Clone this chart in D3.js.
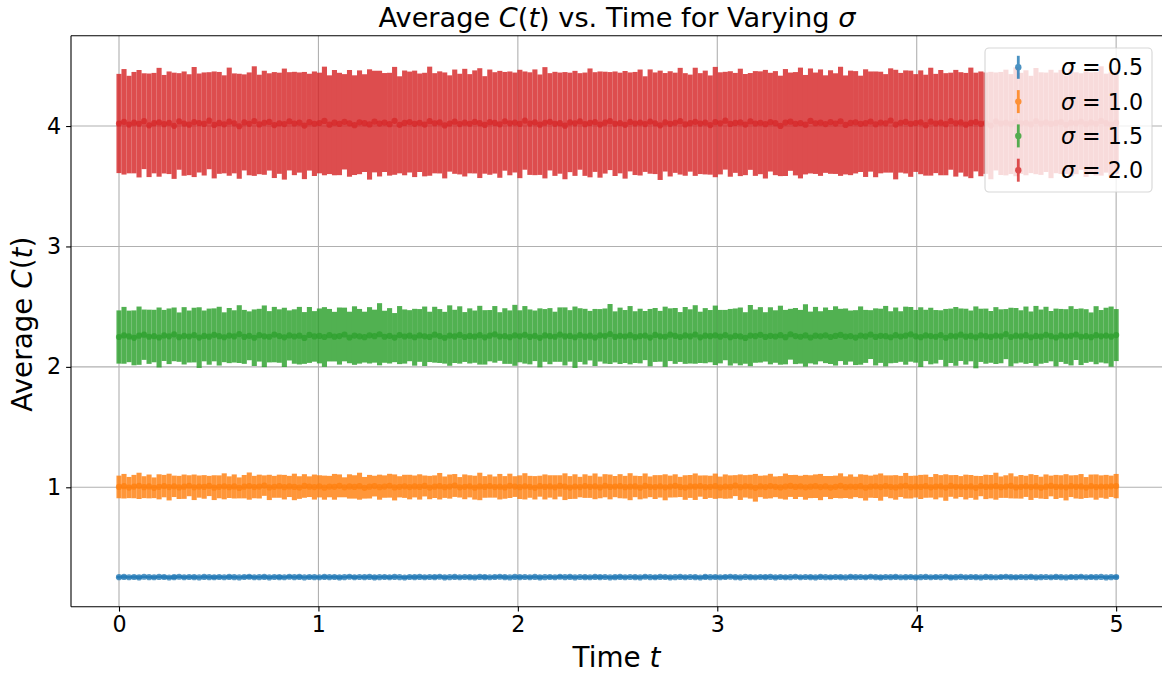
<!DOCTYPE html>
<html><head><meta charset="utf-8">
<script src="https://cdn.jsdelivr.net/npm/d3@7"></script>
<style>body{margin:0;background:#fff} svg{display:block;font-family:"DejaVu Sans",sans-serif}</style>
</head><body><svg id="c" width="1162" height="677"></svg>
<script>
// ---------- data ----------
const tStart = 0, tEnd = 5;
const sigmaLabels = ["0.5", "1.0", "1.5", "2.0"];
const colors = ["#1f77b4", "#ff7f0e", "#2ca02c", "#d62728"];
const xTicks = [0, 1, 2, 3, 4, 5];
const yTicks = [1, 2, 3, 4];

const meanS05 = [0.254,0.256,0.253,0.255,0.252,0.257,0.254,0.253,0.256,0.255,0.251,0.254,0.257,0.253,0.255,0.254,0.252,0.256,0.254,0.253,
0.255,0.253,0.256,0.254,0.252,0.255,0.257,0.253,0.254,0.256,0.252,0.255,0.254,0.253,0.257,0.254,0.256,0.252,0.255,0.254,
0.253,0.256,0.254,0.255,0.252,0.254,0.257,0.253,0.255,0.254,0.256,0.252,0.254,0.255,0.253,0.256,0.254,0.251,0.255,0.254,
0.256,0.253,0.255,0.254,0.257,0.252,0.254,0.256,0.253,0.255,0.254,0.252,0.256,0.254,0.253,0.255,0.257,0.254,0.252,0.256,
0.254,0.255,0.253,0.256,0.252,0.254,0.255,0.253,0.257,0.254,0.256,0.252,0.255,0.254,0.253,0.256,0.254,0.255,0.252,0.254,
0.256,0.253,0.255,0.254,0.252,0.257,0.254,0.253,0.256,0.255,0.252,0.254,0.256,0.253,0.255,0.254,0.251,0.256,0.254,0.255,
0.253,0.255,0.257,0.254,0.252,0.256,0.254,0.253,0.255,0.254,0.256,0.252,0.255,0.253,0.254,0.257,0.253,0.255,0.254,0.252,
0.256,0.254,0.253,0.255,0.254,0.252,0.256,0.254,0.255,0.253,0.257,0.254,0.252,0.255,0.254,0.256,0.253,0.254,0.255,0.252,
0.254,0.256,0.253,0.255,0.254,0.257,0.252,0.254,0.256,0.253,0.255,0.254,0.252,0.256,0.254,0.253,0.255,0.257,0.254,0.253,
0.255,0.254,0.256,0.252,0.254,0.255,0.253,0.256,0.254,0.252,0.255,0.254,0.257,0.253,0.255,0.254,0.256,0.252,0.254,0.255];
const errS05 = [0.012,0.014,0.011,0.013,0.015,0.010,0.012,0.013,0.011,0.014,0.012,0.016,0.011,0.013,0.012,0.014,0.010,0.013,0.012,0.015,
0.013,0.011,0.014,0.012,0.010,0.013,0.015,0.012,0.011,0.014,0.013,0.012,0.016,0.011,0.013,0.012,0.014,0.010,0.013,0.012,
0.011,0.014,0.012,0.013,0.015,0.011,0.012,0.014,0.010,0.013,0.012,0.015,0.011,0.013,0.014,0.012,0.010,0.013,0.012,0.014,
0.012,0.013,0.011,0.015,0.012,0.014,0.010,0.013,0.012,0.011,0.014,0.013,0.012,0.016,0.011,0.013,0.012,0.014,0.010,0.012,
0.014,0.011,0.013,0.012,0.015,0.010,0.013,0.012,0.014,0.011,0.013,0.012,0.010,0.014,0.012,0.013,0.015,0.011,0.012,0.014,
0.013,0.012,0.010,0.014,0.012,0.013,0.011,0.015,0.012,0.013,0.014,0.011,0.012,0.013,0.010,0.014,0.012,0.016,0.011,0.013,
0.012,0.014,0.011,0.013,0.012,0.010,0.014,0.013,0.012,0.015,0.011,0.013,0.012,0.014,0.010,0.012,0.013,0.011,0.014,0.012,
0.013,0.011,0.015,0.012,0.014,0.010,0.013,0.012,0.011,0.014,0.012,0.013,0.016,0.011,0.012,0.014,0.010,0.013,0.012,0.014,
0.011,0.013,0.012,0.014,0.010,0.013,0.015,0.012,0.011,0.013,0.012,0.014,0.011,0.013,0.012,0.010,0.014,0.012,0.013,0.015,
0.012,0.011,0.014,0.013,0.012,0.010,0.013,0.014,0.012,0.011,0.015,0.012,0.013,0.011,0.014,0.012,0.010,0.013,0.012,0.014];

const meanS10 = [1.003,1.009,0.998,1.006,1.012,1.001,1.007,0.996,1.004,1.010,1.002,1.008,0.999,1.005,1.013,1.000,1.006,1.003,1.011,0.997,
1.004,1.008,1.001,1.007,0.995,1.005,1.010,1.002,1.006,1.014,0.999,1.004,1.009,1.001,1.007,1.003,0.998,1.011,1.005,1.002,
1.008,0.997,1.006,1.004,1.012,1.000,1.007,1.003,1.009,0.996,1.005,1.010,1.001,1.006,1.013,0.999,1.004,1.008,1.002,1.007,
1.003,1.011,0.998,1.005,1.009,1.001,1.006,1.015,1.000,1.004,1.008,0.997,1.007,1.003,1.010,1.002,1.005,0.999,1.012,1.006,
1.001,1.008,1.004,0.996,1.009,1.003,1.007,1.000,1.011,1.005,0.998,1.006,1.002,1.010,1.004,1.008,0.999,1.013,1.003,1.006,
1.009,1.001,1.005,1.007,0.997,1.011,1.004,1.002,1.008,1.000,1.006,1.012,1.003,0.998,1.007,1.005,1.010,1.001,1.004,1.009,
0.999,1.006,1.003,1.014,1.001,1.008,1.005,0.996,1.007,1.002,1.010,1.004,0.999,1.006,1.011,1.003,1.008,1.000,1.005,1.009,
1.002,1.007,0.998,1.004,1.012,1.001,1.006,1.003,1.009,0.997,1.005,1.008,1.002,1.010,1.004,0.999,1.007,1.013,1.001,1.006,
1.003,1.009,1.000,1.005,1.008,0.998,1.011,1.004,1.006,1.002,1.007,0.996,1.010,1.003,1.005,1.009,1.001,1.006,1.012,0.999,
1.004,1.008,1.002,1.007,0.997,1.005,1.011,1.003,1.006,1.000,1.009,1.004,1.007,0.998,1.010,1.002,1.006,1.004,1.008,1.010];
const errS10 = [0.094,0.102,0.088,0.097,0.109,0.091,0.099,0.086,0.104,0.093,0.111,0.089,0.096,0.101,0.087,0.106,0.092,0.098,0.084,0.103,
0.095,0.108,0.090,0.100,0.087,0.097,0.113,0.093,0.099,0.085,0.105,0.091,0.096,0.102,0.088,0.110,0.094,0.098,0.086,0.104,
0.092,0.100,0.089,0.107,0.095,0.083,0.101,0.097,0.112,0.090,0.098,0.086,0.104,0.093,0.099,0.108,0.088,0.096,0.102,0.091,
0.105,0.087,0.097,0.094,0.110,0.089,0.100,0.095,0.085,0.103,0.092,0.099,0.114,0.090,0.096,0.088,0.106,0.094,0.101,0.086,
0.098,0.109,0.091,0.097,0.087,0.104,0.093,0.100,0.089,0.111,0.095,0.102,0.085,0.098,0.092,0.107,0.090,0.096,0.103,0.088,
0.100,0.094,0.112,0.089,0.097,0.104,0.086,0.099,0.093,0.108,0.091,0.096,0.084,0.102,0.095,0.110,0.088,0.098,0.092,0.105,
0.090,0.101,0.096,0.087,0.106,0.093,0.099,0.115,0.089,0.097,0.102,0.086,0.094,0.108,0.091,0.100,0.088,0.103,0.095,0.098,
0.109,0.087,0.096,0.093,0.104,0.090,0.101,0.085,0.099,0.107,0.092,0.097,0.113,0.089,0.095,0.102,0.088,0.106,0.094,0.091,
0.100,0.096,0.086,0.105,0.093,0.110,0.090,0.098,0.087,0.103,0.095,0.099,0.084,0.101,0.097,0.112,0.089,0.094,0.104,0.092,
0.098,0.088,0.107,0.095,0.091,0.102,0.086,0.100,0.094,0.109,0.090,0.097,0.103,0.087,0.096,0.105,0.093,0.099,0.089,0.101];

const meanS15 = [2.248,2.262,2.253,2.241,2.259,2.267,2.250,2.256,2.244,2.261,2.254,2.270,2.247,2.258,2.252,2.264,2.243,2.257,2.251,2.266,
2.255,2.246,2.260,2.253,2.272,2.249,2.258,2.242,2.263,2.254,2.250,2.268,2.256,2.245,2.261,2.252,2.259,2.240,2.265,2.253,
2.257,2.248,2.263,2.251,2.256,2.269,2.244,2.260,2.254,2.247,2.262,2.255,2.271,2.250,2.258,2.243,2.264,2.252,2.259,2.246,
2.261,2.254,2.249,2.267,2.256,2.242,2.260,2.253,2.265,2.248,2.257,2.251,2.263,2.245,2.259,2.270,2.252,2.256,2.247,2.262,
2.254,2.266,2.249,2.258,2.241,2.261,2.255,2.250,2.268,2.253,2.257,2.246,2.264,2.251,2.259,2.244,2.262,2.256,2.273,2.249,
2.258,2.252,2.263,2.247,2.256,2.260,2.243,2.265,2.254,2.250,2.267,2.257,2.248,2.261,2.253,2.269,2.245,2.259,2.255,2.262,
2.251,2.264,2.246,2.257,2.253,2.240,2.260,2.255,2.266,2.249,2.258,2.252,2.263,2.247,2.271,2.256,2.250,2.261,2.244,2.259,
2.254,2.262,2.248,2.257,2.265,2.251,2.256,2.243,2.260,2.253,2.268,2.249,2.258,2.255,2.246,2.263,2.252,2.259,2.270,2.254,
2.247,2.261,2.256,2.250,2.264,2.242,2.258,2.253,2.267,2.251,2.257,2.245,2.262,2.255,2.249,2.260,2.254,2.272,2.248,2.259,
2.253,2.263,2.246,2.257,2.251,2.266,2.255,2.244,2.261,2.252,2.258,2.269,2.250,2.256,2.247,2.263,2.254,2.260,2.251,2.264];
const errS15 = [0.221,0.236,0.214,0.228,0.242,0.209,0.225,0.218,0.249,0.212,0.231,0.223,0.205,0.238,0.216,0.227,0.252,0.211,0.233,0.220,
0.244,0.207,0.229,0.217,0.240,0.224,0.203,0.235,0.219,0.256,0.213,0.230,0.222,0.246,0.208,0.226,0.239,0.215,0.232,0.210,
0.228,0.248,0.218,0.206,0.237,0.223,0.214,0.243,0.227,0.211,0.234,0.220,0.258,0.216,0.230,0.204,0.241,0.225,0.212,0.236,
0.219,0.247,0.209,0.232,0.224,0.215,0.251,0.221,0.238,0.207,0.229,0.217,0.244,0.226,0.213,0.235,0.202,0.231,0.222,0.253,
0.216,0.239,0.228,0.210,0.245,0.219,0.233,0.208,0.226,0.241,0.214,0.255,0.223,0.231,0.206,0.237,0.218,0.229,0.249,0.212,
0.234,0.220,0.242,0.215,0.227,0.204,0.238,0.224,0.211,0.250,0.219,0.232,0.207,0.236,0.225,0.243,0.213,0.229,0.217,0.247,
0.222,0.209,0.235,0.228,0.240,0.214,0.254,0.221,0.230,0.205,0.237,0.218,0.245,0.226,0.211,0.233,0.223,0.259,0.215,0.239,
0.208,0.231,0.224,0.246,0.217,0.234,0.212,0.228,0.242,0.220,0.203,0.237,0.225,0.251,0.216,0.230,0.210,0.241,0.227,0.219,
0.248,0.213,0.235,0.222,0.206,0.239,0.226,0.244,0.218,0.232,0.211,0.257,0.221,0.229,0.215,0.236,0.224,0.208,0.243,0.230,
0.217,0.238,0.214,0.249,0.225,0.233,0.209,0.240,0.220,0.227,0.246,0.212,0.235,0.223,0.205,0.241,0.218,0.231,0.250,0.216];

const meanS20 = [4.021,4.035,4.012,4.028,4.019,4.040,4.006,4.024,4.031,4.015,4.027,4.002,4.038,4.020,4.011,4.033,4.025,4.017,4.044,4.009,
4.026,4.014,4.036,4.022,3.998,4.030,4.018,4.041,4.013,4.027,4.034,4.008,4.023,4.016,4.039,4.021,4.029,4.004,4.032,4.019,
4.025,4.042,4.011,4.028,4.017,4.035,4.022,4.007,4.031,4.024,4.013,4.037,4.020,4.029,4.015,4.043,4.010,4.026,4.033,4.018,
4.027,4.012,4.040,4.023,4.030,4.005,4.021,4.036,4.016,4.028,4.019,4.034,4.024,4.009,4.032,4.026,4.014,4.039,4.022,4.029,
4.017,4.045,4.020,4.031,4.011,4.027,4.035,4.018,4.024,4.003,4.030,4.022,4.038,4.015,4.026,4.033,4.012,4.028,4.041,4.019,
4.025,4.010,4.034,4.021,4.029,4.016,4.037,4.023,4.006,4.031,4.018,4.027,4.040,4.013,4.024,4.035,4.020,4.029,4.008,4.033,
4.022,4.044,4.017,4.026,4.030,4.012,4.038,4.021,4.027,4.015,4.032,4.024,4.001,4.029,4.036,4.019,4.025,4.011,4.042,4.023,
4.028,4.016,4.033,4.020,4.039,4.009,4.026,4.031,4.018,4.024,4.037,4.014,4.029,4.022,4.046,4.012,4.027,4.034,4.019,4.025,
4.031,4.007,4.036,4.021,4.028,4.015,4.040,4.023,4.030,4.011,4.026,4.033,4.018,4.024,4.004,4.038,4.021,4.029,4.016,4.035,
4.022,4.027,4.013,4.041,4.020,4.031,4.017,4.026,4.034,4.010,4.028,4.023,4.037,4.015,4.030,4.019,4.042,4.024,4.012,4.028];
const errS20 = [0.412,0.438,0.405,0.421,0.446,0.398,0.430,0.417,0.452,0.409,0.426,0.441,0.401,0.433,0.419,0.457,0.411,0.428,0.403,0.444,
0.423,0.407,0.449,0.415,0.436,0.399,0.427,0.455,0.413,0.432,0.404,0.440,0.420,0.461,0.408,0.429,0.416,0.445,0.402,0.434,
0.418,0.451,0.410,0.437,0.425,0.396,0.443,0.414,0.431,0.406,0.458,0.422,0.439,0.411,0.427,0.448,0.403,0.435,0.419,0.442,
0.409,0.430,0.453,0.416,0.424,0.440,0.400,0.433,0.418,0.447,0.412,0.428,0.456,0.405,0.437,0.421,0.444,0.410,0.431,0.415,
0.450,0.408,0.426,0.439,0.417,0.462,0.404,0.432,0.420,0.445,0.413,0.436,0.401,0.429,0.452,0.414,0.441,0.423,0.407,0.434,
0.418,0.447,0.411,0.428,0.440,0.397,0.433,0.422,0.454,0.409,0.437,0.416,0.443,0.426,0.403,0.449,0.419,0.431,0.412,0.458,
0.424,0.406,0.438,0.415,0.446,0.420,0.402,0.435,0.427,0.451,0.410,0.432,0.417,0.444,0.408,0.429,0.460,0.413,0.436,0.421,
0.442,0.405,0.430,0.418,0.453,0.411,0.434,0.425,0.400,0.447,0.416,0.439,0.422,0.409,0.433,0.455,0.414,0.428,0.441,0.406,
0.431,0.419,0.448,0.412,0.437,0.424,0.403,0.443,0.417,0.430,0.459,0.410,0.435,0.421,0.446,0.407,0.428,0.439,0.415,0.452,
0.420,0.436,0.404,0.441,0.426,0.413,0.450,0.418,0.432,0.409,0.445,0.423,0.401,0.438,0.416,0.429,0.454,0.411,0.434,0.425];

const seriesMeans = [meanS05, meanS10, meanS15, meanS20];
const seriesErrs = [errS05, errS10, errS15, errS20];

// ---------- layout ----------
const W = 1162, H = 677;
const plot = {left: 71, top: 35.7, right: 1166, bottom: 606.7};
const svg = d3.select("#c");
svg.append("rect").attr("width", W).attr("height", H).attr("fill", "#fff");

const x = d3.scaleLinear().domain([-0.2407, 5.25]).range([plot.left, plot.right]);
const y = d3.scaleLinear().domain([0.0085, 4.750]).range([plot.bottom, plot.top]);

const nPts = meanS05.length;
const times = d3.range(nPts).map(i => tStart + i * (tEnd - tStart) / (nPts - 1));

// grid
const grid = svg.append("g");
grid.selectAll("line.vx").data(xTicks).join("line")
  .attr("x1", d => x(d)).attr("x2", d => x(d)).attr("y1", plot.top).attr("y2", plot.bottom)
  .attr("stroke", "#b0b0b0").attr("stroke-width", 1.1);
grid.selectAll("line.hy").data(yTicks).join("line")
  .attr("y1", d => y(d)).attr("y2", d => y(d)).attr("x1", plot.left).attr("x2", plot.right)
  .attr("stroke", "#b0b0b0").attr("stroke-width", 1.1);

// series
const dataG = svg.append("g");
seriesMeans.forEach((means, s) => {
  const errs = seriesErrs[s];
  const pts = times.map((t, i) => ({t, m: means[i], e: errs[i]}));
  const g = dataG.append("g");
  g.append("g").attr("opacity", 0.82).selectAll("line").data(pts).join("line")
    .attr("x1", d => x(d.t)).attr("x2", d => x(d.t))
    .attr("y1", d => y(d.m - d.e)).attr("y2", d => y(d.m + d.e))
    .attr("stroke", colors[s]).attr("stroke-width", 5.1);
  g.selectAll("circle").data(pts).join("circle")
    .attr("cx", d => x(d.t)).attr("cy", d => y(d.m)).attr("r", 3.1)
    .attr("fill", colors[s]).attr("fill-opacity", 0.75);
});

// spines
svg.append("line").attr("x1", plot.left).attr("x2", plot.left).attr("y1", plot.top).attr("y2", plot.bottom).attr("stroke", "#000").attr("stroke-width", 1.1);
svg.append("line").attr("x1", plot.left).attr("x2", plot.right).attr("y1", plot.bottom).attr("y2", plot.bottom).attr("stroke", "#000").attr("stroke-width", 1.1);
svg.append("line").attr("x1", plot.left).attr("x2", plot.right).attr("y1", plot.top).attr("y2", plot.top).attr("stroke", "#000").attr("stroke-width", 1.1);
svg.append("line").attr("x1", plot.right).attr("x2", plot.right).attr("y1", plot.top).attr("y2", plot.bottom).attr("stroke", "#000").attr("stroke-width", 1.1);

// axes
const xAxis = d3.axisBottom(x).tickValues(xTicks).tickFormat(d3.format("d")).tickSize(4.9).tickPadding(5);
const gx = svg.append("g").attr("transform", `translate(0,${plot.bottom})`).call(xAxis);
const yAxis = d3.axisLeft(y).tickValues(yTicks).tickFormat(d3.format("d")).tickSize(4.9).tickPadding(5);
const gy = svg.append("g").attr("transform", `translate(${plot.left},0)`).call(yAxis);
[gx, gy].forEach(g => {
  g.select(".domain").remove();
  g.selectAll(".tick line").attr("stroke", "#000").attr("stroke-width", 1.1);
  g.selectAll(".tick text").attr("font-size", 22.2).attr("fill", "#000").attr("font-family", "DejaVu Sans");
});

// labels
function mathText(sel, parts) {
  parts.forEach(p => sel.append("tspan").attr("font-style", p[1] ? "italic" : "normal").text(p[0]));
}
const title = svg.append("text").attr("x", 617).attr("y", 27)
  .attr("text-anchor", "middle").attr("font-size", 27.2).attr("fill", "#000");
mathText(title, [["Average ", 0], ["C", 1], ["(", 0], ["t", 1], [")", 0], [" vs. Time for Varying ", 0], ["σ", 1]]);

const xl = svg.append("text").attr("x", (plot.left + plot.right) / 2 - 2).attr("y", 667)
  .attr("text-anchor", "middle").attr("font-size", 27.8).attr("fill", "#000");
mathText(xl, [["Time ", 0], ["t", 1]]);

const yl = svg.append("text").attr("transform", `translate(32,${(plot.top + plot.bottom) / 2 + 3}) rotate(-90)`)
  .attr("text-anchor", "middle").attr("font-size", 27.8).attr("fill", "#000");
mathText(yl, [["Average ", 0], ["C", 1], ["(", 0], ["t", 1], [")", 0]]);

// legend
const lg = svg.append("g");
lg.append("rect").attr("x", 985).attr("y", 48).attr("width", 167).attr("height", 144).attr("rx", 4)
  .attr("fill", "#fff").attr("fill-opacity", 0.8).attr("stroke", "#cccccc").attr("stroke-opacity", 0.8).attr("stroke-width", 1.1);
sigmaLabels.forEach((lab, i) => {
  const cy = 67.3 + i * 34.3;
  const row = lg.append("g").attr("opacity", 0.8);
  row.append("line").attr("x1", 1018.3).attr("x2", 1018.3).attr("y1", cy - 11.5).attr("y2", cy + 11.5)
    .attr("stroke", colors[i]).attr("stroke-width", 2.8);
  row.append("circle").attr("cx", 1018.3).attr("cy", cy).attr("r", 3.2).attr("fill", colors[i]);
  const t = lg.append("text").attr("x", 1061).attr("y", cy).attr("dy", "0.36em").attr("font-size", 22.2).attr("fill", "#000");
  mathText(t, [["σ", 1], [" = ", 0], [lab, 0]]);
});
</script></body></html>
